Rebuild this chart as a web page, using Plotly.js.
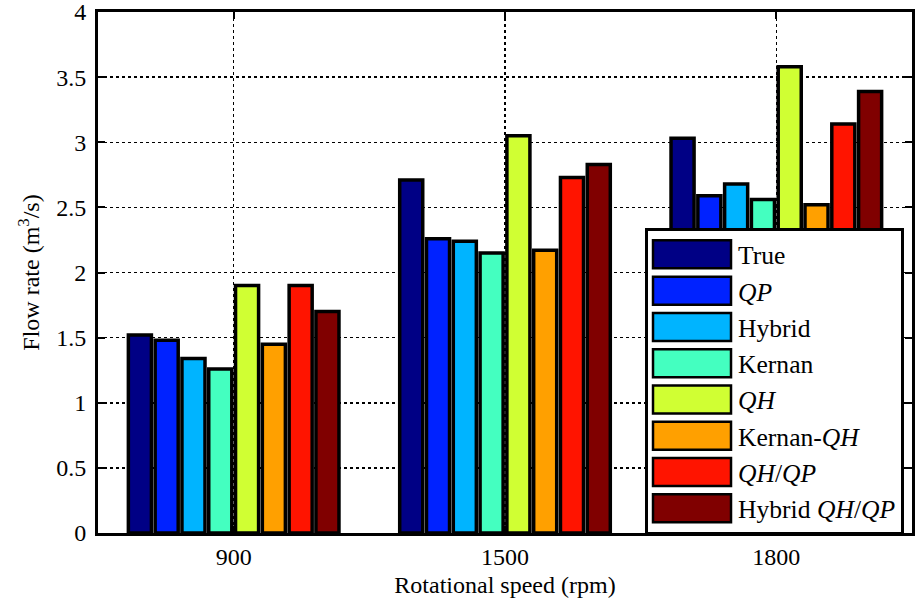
<!DOCTYPE html>
<html>
<head>
<meta charset="utf-8">
<script src="https://cdn.plot.ly/plotly-3.0.1.min.js"></script>
<style>body{margin:0;padding:0;background:#fff;} #chart{width:915px;height:607px;}</style>
</head>
<body>
<div id="chart"></div>
<script>
var speeds = ['900', '1500', '1800'];
var seriesNames = ['True', '<i>QP</i>', 'Hybrid', 'Kernan', '<i>QH</i>', 'Kernan-<i>QH</i>', '<i>QH</i>/<i>QP</i>', 'Hybrid <i>QH</i>/<i>QP</i>'];
var trueVals     = [1.52, 2.71, 3.03];
var qpVals       = [1.48, 2.26, 2.59];
var hybridVals   = [1.34, 2.24, 2.68];
var kernanVals   = [1.26, 2.15, 2.56];
var qhVals       = [1.90, 3.05, 3.58];
var kernanQhVals = [1.45, 2.17, 2.52];
var qhqpVals     = [1.90, 2.73, 3.14];
var hybridQhQpVals = [1.70, 2.83, 3.39];
var yTicks = [0, 0.5, 1, 1.5, 2, 2.5, 3, 3.5, 4];
var colors = ['#000085', '#0022ff', '#00b4ff', '#44ffc0', '#d0ff33', '#ffa000', '#ff1400', '#800000'];

var allVals = [trueVals, qpVals, hybridVals, kernanVals, qhVals, kernanQhVals, qhqpVals, hybridQhQpVals];
var traces = allVals.map(function (v, i) {
  return {
    type: 'bar', x: speeds, y: v, name: seriesNames[i], legendgroup: 'g' + i,
    marker: {color: colors[i], line: {color: '#000', width: 3.5}},
    hoverinfo: 'skip'
  };
});

var fam = '"Liberation Serif", "Times New Roman", serif';
var layout = {
  width: 915, height: 607,
  margin: {l: 98, r: 3, t: 12, b: 74},
  paper_bgcolor: '#fff', plot_bgcolor: '#fff',
  font: {family: fam, size: 24, color: '#000'},
  barmode: 'group', bargap: 0.21, bargroupgap: 0.14,
  showlegend: true,
  legend: {
    x: 0.672, y: 0.585, xanchor: 'left', yanchor: 'top',
    bgcolor: '#fff', bordercolor: '#000', borderwidth: 3,
    font: {family: fam, size: 25.6, color: '#000'},
    itemwidth: 80, tracegroupgap: 0, traceorder: 'normal'
  },
  xaxis: {
    type: 'category', range: [-0.5, 2.5],
    showline: true, linecolor: '#000', linewidth: 3, mirror: 'ticks',
    ticks: 'inside', ticklen: 7, tickwidth: 2, tickcolor: '#000',
    showgrid: true, gridcolor: '#000', gridwidth: 1.5, griddash: '3px,3px',
    tickfont: {family: fam, size: 24, color: '#000'},
    ticklabelstandoff: 0, ticklabeloverflow: 'allow',
    title: {text: 'Rotational speed (rpm)', font: {family: fam, size: 24, color: '#000'}, standoff: 8},
    zeroline: false
  },
  yaxis: {
    range: [0, 4], tickmode: 'array', tickvals: yTicks, ticktext: yTicks.map(String),
    showline: true, linecolor: '#000', linewidth: 3, mirror: 'ticks',
    ticks: 'inside', ticklen: 7, tickwidth: 2, tickcolor: '#000',
    showgrid: true, gridcolor: '#000', gridwidth: 1.5, griddash: '3px,3px',
    tickfont: {family: fam, size: 24, color: '#000'},
    ticklabelstandoff: 4, ticklabeloverflow: 'allow',
    title: {text: 'Flow rate (m<sup>3</sup>/s)', font: {family: fam, size: 24, color: '#000'}, standoff: 10},
    zeroline: false
  }
};

Plotly.newPlot('chart', traces, layout, {displayModeBar: false, staticPlot: true}).then(function (gd) {
  var items = gd.querySelectorAll('.legend .traces');
  items.forEach(function (g) {
    var t = g.querySelector('text.legendtext');
    var lp = g.querySelector('.legendpoints');
    var p = g.querySelector('.legendpoints path');
    if (!t || !lp || !p) return;
    p.setAttribute('d', 'M-39,-14H39V14H-39Z');
    p.style.strokeWidth = '2.5px';
    p.style.stroke = '#000';
    var textLeft = t.getBoundingClientRect().left;
    var r = p.getBoundingClientRect();
    var shift = (textLeft - 7) - r.right;
    var cur = lp.getAttribute('transform') || '';
    var m = /translate\(\s*([-\d.]+)/.exec(cur);
    var base = m ? parseFloat(m[1]) : 0;
    lp.setAttribute('transform', 'translate(' + (base + shift) + ',0)');
  });
});
</script>
</body>
</html>
